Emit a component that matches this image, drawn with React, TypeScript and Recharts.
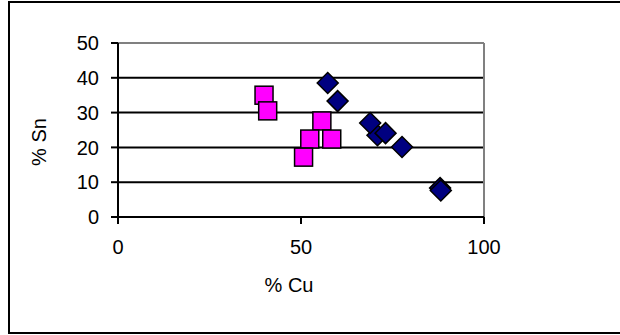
import React from 'react'
import { ScatterChart, Scatter, XAxis, YAxis, CartesianGrid, ReferenceLine, Label } from 'recharts'

// % Cu / % Sn readings
const diamondCu = [57.3, 60.0, 70.9, 68.9, 73.1, 77.6, 88.0, 88.2]
const diamondSn = [38.5, 33.3, 23.5, 27.0, 24.1, 20.1, 8.3, 7.6]
const squareCu = [39.9, 40.9, 55.7, 52.4, 58.4, 50.7]
const squareSn = [35.0, 30.5, 27.6, 22.4, 22.4, 17.2]

const xTicks = [0, 50, 100]
const yTicks = [0, 10, 20, 30, 40, 50]

const diamondData = diamondCu.map((x, i) => ({ x, y: diamondSn[i] }))
const squareData = squareCu.map((x, i) => ({ x, y: squareSn[i] }))

const FONT = "Arial, 'Liberation Sans', sans-serif"

const SquareShape = (props: any) => {
  const { cx, cy } = props
  return <rect x={cx - 9} y={cy - 9} width={18} height={18} fill="#FF00FF" stroke="#000" strokeWidth={1.5} />
}

const DiamondShape = (props: any) => {
  const { cx, cy } = props
  const r = 10.5
  const pts = `${cx},${cy - r} ${cx + r},${cy} ${cx},${cy + r} ${cx - r},${cy}`
  return <polygon points={pts} fill="#000080" stroke="#000" strokeWidth={1.5} />
}

const YTitle = (props: any) => {
  const { x, y, height } = props.viewBox
  const cx = x + 31
  const cy = y + height / 2 + 12
  return (
    <text x={cx} y={cy} transform={`rotate(-90 ${cx} ${cy})`} textAnchor="middle"
      dominantBaseline="central" fontSize={20} fontFamily={FONT} fill="#000">% Sn</text>
  )
}

export default function App() {
  return (
    <div style={{ position: 'fixed', left: 8, top: 1, width: 612, height: 333, boxSizing: 'border-box',
      borderLeft: '2px solid #000', borderTop: '2px solid #000', borderBottom: '2px solid #000', background: '#fff' }}>
      <div style={{ position: 'absolute', left: -10, top: -3 }}>
        <ScatterChart width={620} height={335} margin={{ top: 43, right: 136, bottom: 38, left: 8 }}>
          <CartesianGrid vertical={false} stroke="#000" strokeWidth={2} />
          <XAxis type="number" dataKey="x" domain={[0, 100]} ticks={xTicks} interval={0}
            axisLine={{ stroke: '#000', strokeWidth: 2 }} tickLine={{ stroke: '#000', strokeWidth: 2 }}
            tickSize={7} tickMargin={16} height={80}
            tick={{ fill: '#000', fontSize: 20, fontFamily: FONT }}>
            <Label value="% Cu" position="insideBottom" offset={5} dx={-12} fill="#000" fontSize={20} fontFamily={FONT} />
          </XAxis>
          <YAxis type="number" dataKey="y" domain={[0, 50]} ticks={yTicks} interval={0} width={110}
            axisLine={{ stroke: '#000', strokeWidth: 2 }} tickLine={{ stroke: '#000', strokeWidth: 2 }}
            tickSize={7} tickMargin={12}
            tick={{ fill: '#000', fontSize: 20, fontFamily: FONT }}>
            <Label content={YTitle} />
          </YAxis>
          <ReferenceLine y={50} stroke="#808080" strokeWidth={2} />
          <ReferenceLine x={100} stroke="#808080" strokeWidth={2} />
          <Scatter data={squareData} shape={SquareShape} isAnimationActive={false} />
          <Scatter data={diamondData} shape={DiamondShape} isAnimationActive={false} />
        </ScatterChart>
      </div>
    </div>
  )
}
